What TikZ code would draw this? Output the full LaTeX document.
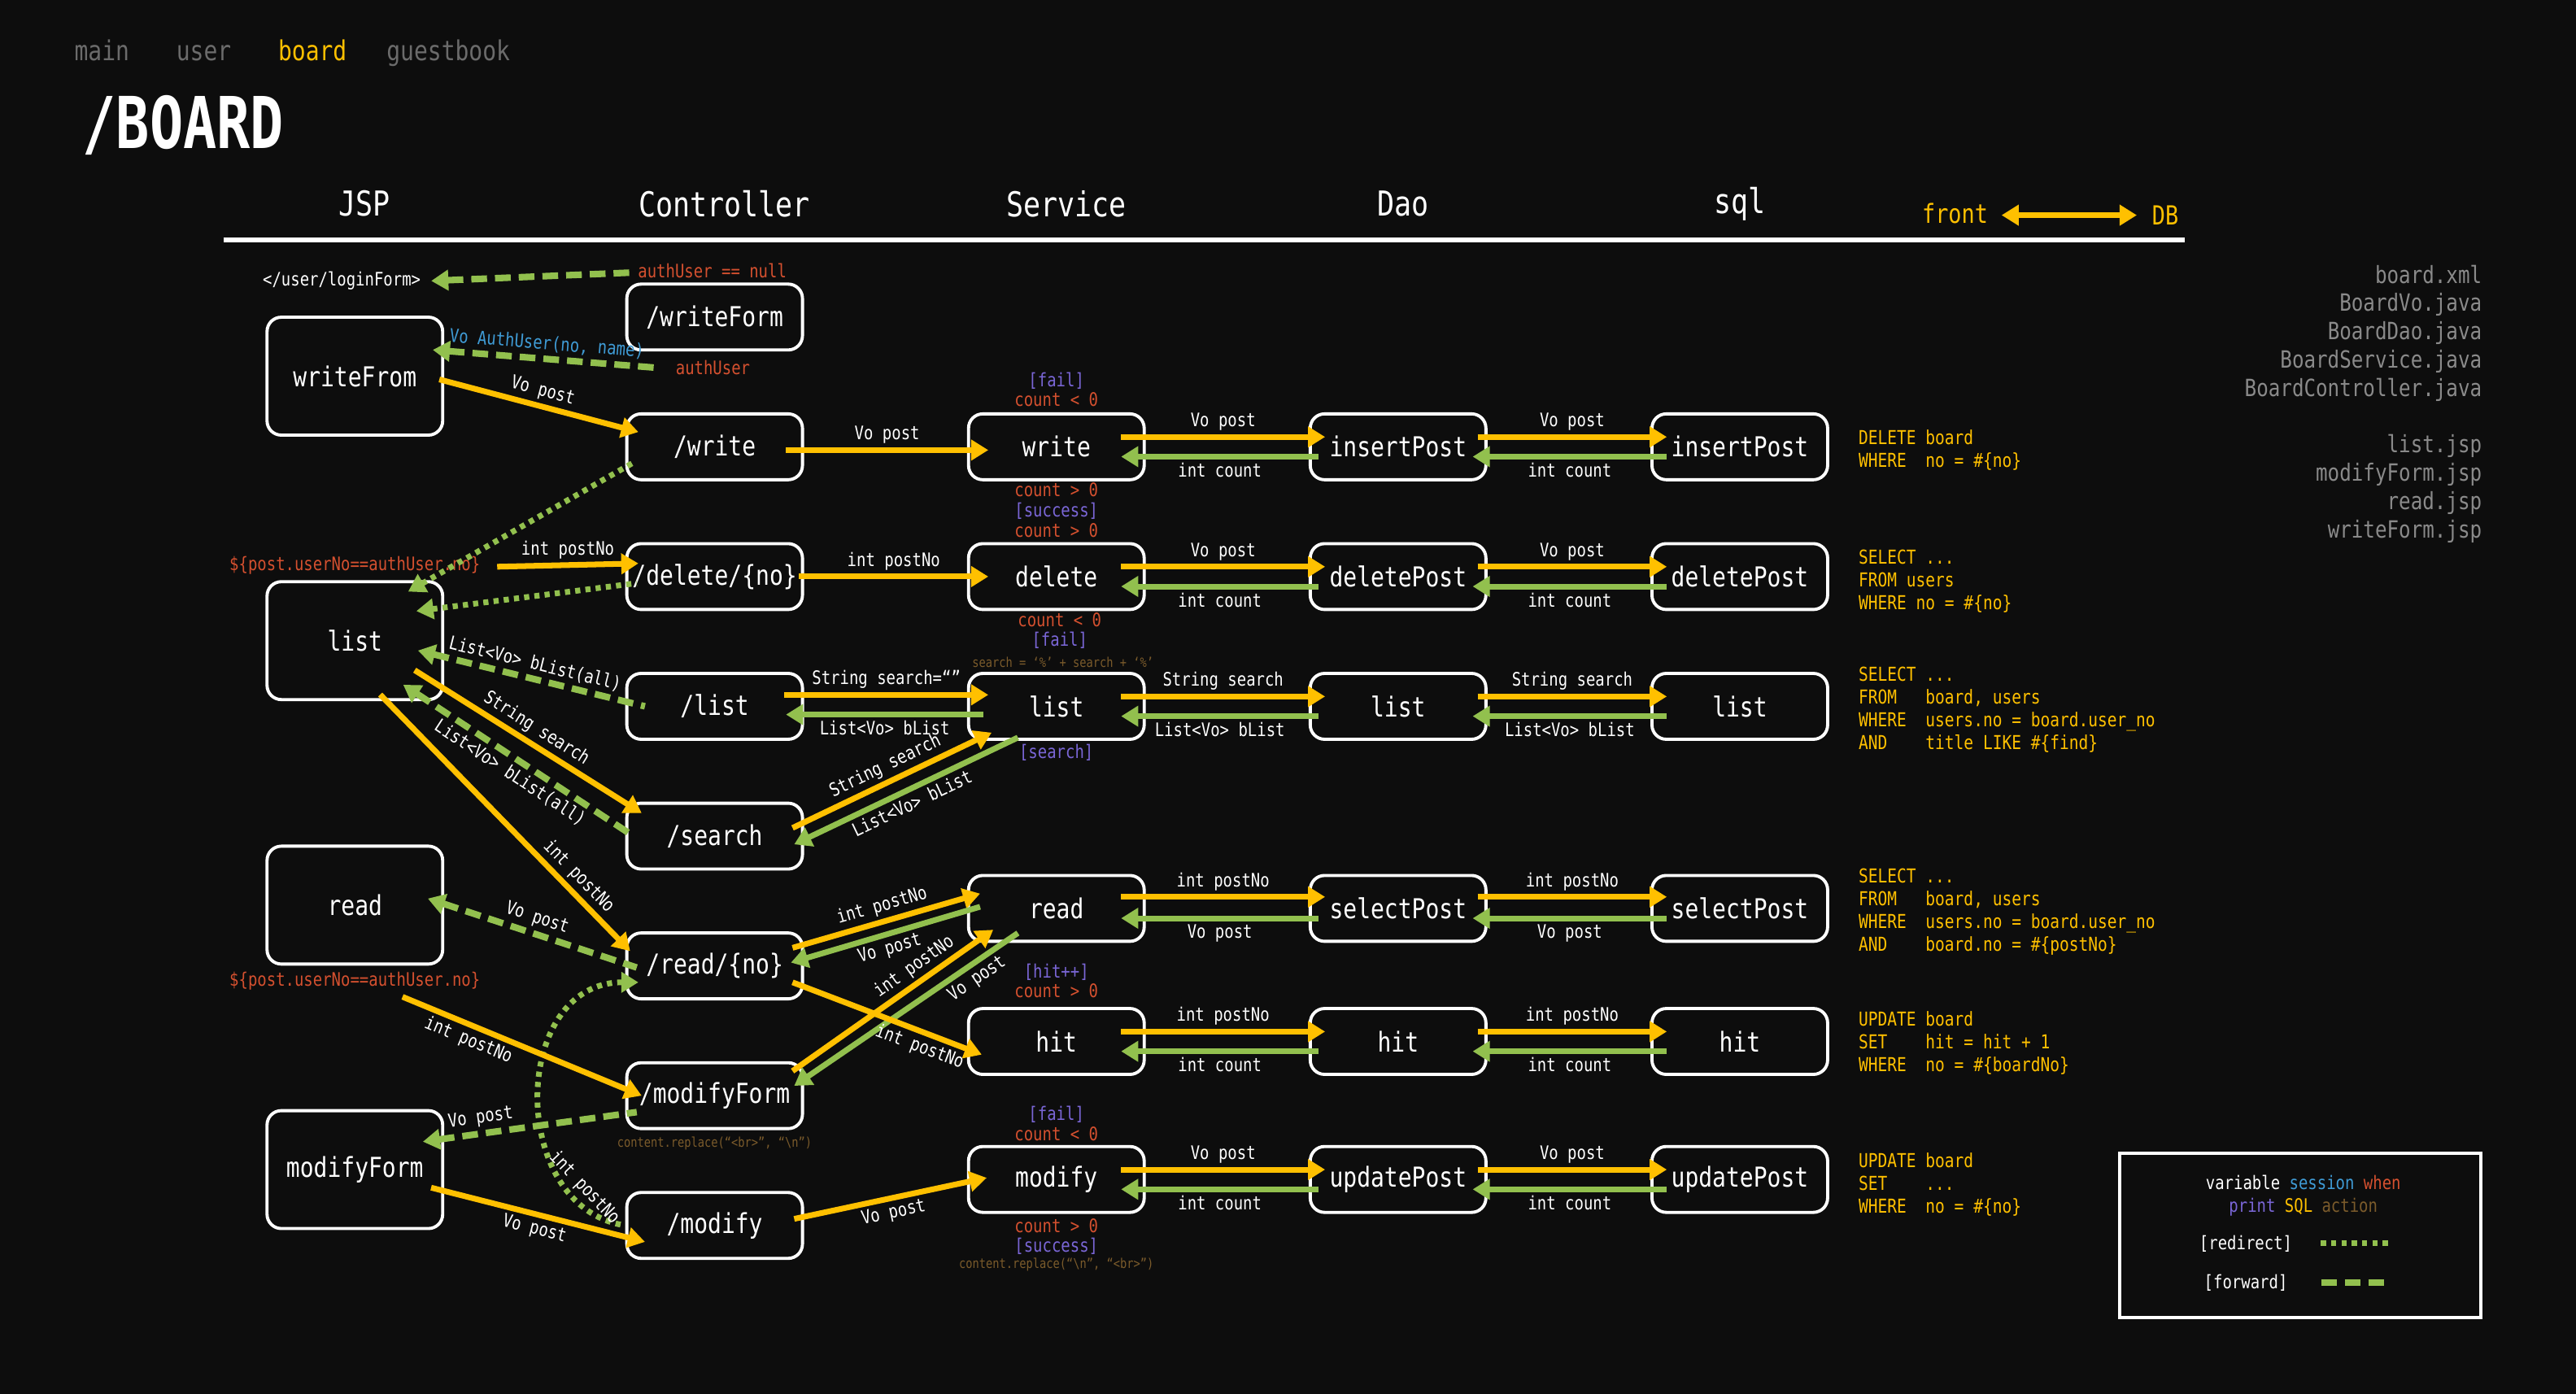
\documentclass[tikz,border=0pt]{standalone}
\usepackage{fontspec}
\setmainfont[FakeStretch=0.83]{DejaVu Sans Mono}
\newfontfamily\titlefont[FakeStretch=0.78]{DejaVu Sans Mono}
\usetikzlibrary{arrows.meta,calc}
\definecolor{pageBg}{HTML}{0D0D0D}
\definecolor{flowYellow}{HTML}{FFC000}
\definecolor{flowGreen}{HTML}{92C04E}
\definecolor{condRed}{HTML}{D4502F}
\definecolor{flagPurple}{HTML}{7A66D6}
\definecolor{userBlue}{HTML}{3F9BD5}
\definecolor{codeBrown}{HTML}{7B5B2B}
\definecolor{fileGray}{HTML}{8A8A8A}
\definecolor{navGray}{HTML}{6B6B6B}

\begin{document}
\begin{tikzpicture}[x=0.0202cm, y=-0.0202cm, >={Triangle[length=6pt,width=7pt]},
  box/.style={draw=white, line width=1.1pt, rounded corners=5pt, minimum width=2.16cm, minimum height=0.81cm, inner sep=0pt, text=white, font=\fontsize{9.6}{11}\selectfont},
  jspbox/.style={box, minimum height=1.45cm},
  call/.style={draw=flowYellow, line width=2pt, ->},
  give/.style={draw=flowGreen, line width=2pt, ->},
  fwd/.style={draw=flowGreen, line width=2.3pt, dash pattern=on 5.5pt off 2.8pt, ->},
  redir/.style={draw=flowGreen, line width=2pt, dash pattern=on 1.8pt off 1.8pt, ->},
  lbl/.style={text=white, font=\fontsize{6.5}{7.5}\selectfont, inner sep=1.2pt},
  tag/.style={font=\fontsize{6.5}{6.9}\selectfont, align=center, inner sep=0pt},
  code/.style={text=codeBrown, font=\fontsize{4.7}{5.5}\selectfont, inner sep=0pt},
  sqltext/.style={anchor=west, align=left, text=flowYellow, font=\fontsize{6.7}{8}\selectfont, inner sep=0pt},
  head/.style={text=white, font=\fontsize{12}{14}\selectfont},
  nav/.style={anchor=base west, inner sep=0pt, text=navGray, font=\fontsize{9.6}{11}\selectfont}]

\fill[pageBg] (0,0) rectangle (1568,848.6);
\useasboundingbox (0,0) rectangle (1568,848.6);

\node[nav] (nMain) at (45,37) {main};
\node[nav] (nUser) at (107,37) {user};
\node[nav, text=flowYellow] (nBoard) at (169,37) {board};
\node[nav] (nGuest) at (235,37) {guestbook};
\node[anchor=west, inner sep=0pt, text=white, font=\titlefont\bfseries\fontsize{25}{30}\selectfont] (title) at (50,76) {/BOARD};

\node[head] (hJsp) at (222,124) {JSP};
\node[head] (hCtrl) at (441,124) {Controller};
\node[head] (hSvc) at (649,124) {Service};
\node[head] (hDao) at (854,124) {Dao};
\node[head] (hSql) at (1059,124) {sql};
\node[text=flowYellow, font=\fontsize{9.2}{11}\selectfont, inner sep=0pt] (hFront) at (1190,130) {front};
\node[text=flowYellow, font=\fontsize{9.2}{11}\selectfont, inner sep=0pt] (hDb) at (1318,131) {DB};
\draw[call, <->] ($(hFront.east)+(8,1)$) -- ($(hDb.west)+(-9,0)$);
\draw[white, line width=1.7pt] (136,146) -- (1330,146);

\node[anchor=north east, align=right, inner sep=0pt, text=fileGray, font=\fontsize{8.3}{9.9}\selectfont] (files) at (1511,161)
  {board.xml\\BoardVo.java\\BoardDao.java\\BoardService.java\\BoardController.java\\[9.9pt]list.jsp\\modifyForm.jsp\\read.jsp\\writeForm.jsp};

\node[jspbox] (jWrite) at (216,229) {writeFrom};
\node[jspbox] (jList) at (216,390) {list};
\node[jspbox] (jRead) at (216,551) {read};
\node[jspbox] (jModify) at (216,712) {modifyForm};

\node[box] (cWriteForm) at (435,193) {/writeForm};
\node[box] (cWrite) at (435,272) {/write};
\node[box] (cDelete) at (435,351) {/delete/\{no\}};
\node[box] (cList) at (435,430) {/list};
\node[box] (cSearch) at (435,509) {/search};
\node[box] (cRead) at (435,588) {/read/\{no\}};
\node[box] (cModifyForm) at (435,667) {/modifyForm};
\node[box] (cModify) at (435,746) {/modify};

\node[box] (sWrite) at (643,272) {write};
\node[box] (sDelete) at (643,351) {delete};
\node[box] (sList) at (643,430) {list};
\node[box] (sRead) at (643,553) {read};
\node[box] (sHit) at (643,634) {hit};
\node[box] (sModify) at (643,718) {modify};

\node[box] (dInsert) at (851,272) {insertPost};
\node[box] (dDelete) at (851,351) {deletePost};
\node[box] (dList) at (851,430) {list};
\node[box] (dSelect) at (851,553) {selectPost};
\node[box] (dHit) at (851,634) {hit};
\node[box] (dUpdate) at (851,718) {updatePost};

\node[box] (qInsert) at (1059,272) {insertPost};
\node[box] (qDelete) at (1059,351) {deletePost};
\node[box] (qList) at (1059,430) {list};
\node[box] (qSelect) at (1059,553) {selectPost};
\node[box] (qHit) at (1059,634) {hit};
\node[box] (qUpdate) at (1059,718) {updatePost};

\node[sqltext] (tInsert) at (1131,274) {DELETE board\\WHERE~~no = \#\{no\}};
\node[sqltext] (tDelete) at (1131,354) {SELECT ...\\FROM users\\WHERE no = \#\{no\}};
\node[sqltext] (tList) at (1131,432) {SELECT ...\\FROM~~~board, users\\WHERE~~users.no = board.user\_no\\AND~~~~title LIKE \#\{find\}};
\node[sqltext] (tSelect) at (1131,555) {SELECT ...\\FROM~~~board, users\\WHERE~~users.no = board.user\_no\\AND~~~~board.no = \#\{postNo\}};
\node[sqltext] (tHit) at (1131,635) {UPDATE board\\SET~~~~hit = hit + 1\\WHERE~~no = \#\{boardNo\}};
\node[sqltext] (tUpdate) at (1131,721) {UPDATE board\\SET~~~~...\\WHERE~~no = \#\{no\}};

\node[tag] (fWriteA) at (643,237) {\textcolor{flagPurple}{[fail]}\\\textcolor{condRed}{count < 0}};
\node[tag] (fWriteB) at (643,305) {\textcolor{condRed}{count > 0}\\\textcolor{flagPurple}{[success]}};
\node[tag, text=condRed] (fDeleteA) at (643,323) {count > 0};
\node[tag] (fDeleteB) at (645,384) {\textcolor{condRed}{count < 0}\\\textcolor{flagPurple}{[fail]}};
\node[code] (fSearch) at (647,403) {search = ‘\%’ + search + ‘\%’};
\node[tag, text=flagPurple] (fList) at (643,458) {[search]};
\node[tag] (fHit) at (643,597) {\textcolor{flagPurple}{[hit++]}\\\textcolor{condRed}{count > 0}};
\node[tag] (fModifyA) at (643,684) {\textcolor{flagPurple}{[fail]}\\\textcolor{condRed}{count < 0}};
\node[tag] (fModifyB) at (643,753) {\textcolor{condRed}{count > 0}\\\textcolor{flagPurple}{[success]}};
\node[code] (fModifyC) at (643,770) {content.replace(“\textbackslash n”, “<br>”)};
\node[code] (fModForm) at (435,696) {content.replace(“<br>”, “\textbackslash n”)};

\node[lbl] (login) at (208,171) {</user/loginForm>};
\node[tag, anchor=west, text=condRed] (aNull) at (388,165) {authUser == null};
\node[tag, anchor=west, text=condRed] (aUser) at (411,224) {authUser};
\node[tag, text=condRed] (pNoA) at (216,344) {\$\{post.userNo==authUser.no\}};
\node[tag, text=condRed] (pNoB) at (216,597) {\$\{post.userNo==authUser.no\}};

\draw[fwd] ($(aNull.west)+(-5,1)$) -- ($(login.east)+(4,0)$);
\draw[fwd, <-] ($(jWrite.east)+(-7,-16)$) -- ($(aUser.west)+(-10,0)$) node[midway, above, sloped, lbl, text=userBlue] {Vo AuthUser(no, name)};
\draw[call] ($(jWrite.east)+(-3,2)$) -- ($(cWrite.west)+(8,-9)$) node[midway, above, sloped, lbl] {Vo post};
\draw[redir, <-] ($(jList.north east)+(-22,7)$) -- ($(cWrite.west)+(6,9)$);
\draw[call] ($(pNoA.east)+(10,1)$) -- ($(cDelete.west)+(8,-8)$) node[midway, above, lbl] {int postNo};
\draw[redir, <-] ($(jList.east)+(-17,-18)$) -- ($(cDelete.west)+(7,4)$);
\draw[fwd, <-] ($(jList.east)+(-16,6)$) -- ($(cList.west)+(12,0)$) node[midway, above, sloped, lbl] {List<Vo> bList(all)};
\draw[call] ($(jList.east)+(-18,18)$) -- ($(cSearch.west)+(10,-14)$) node[midway, above, sloped, lbl] {String search};
\draw[fwd, <-] ($(jList.south east)+(-25,-10)$) -- ($(cSearch.west)+(5,0)$) node[midway, below, sloped, lbl] {List<Vo> bList(all)};
\draw[call] ($(jList.south east)+(-39,-4)$) -- ($(cRead.west)+(3,-9)$) node[pos=0.75, above, sloped, lbl] {int postNo};
\draw[fwd, <-] ($(jRead.east)+(-10,-4)$) -- ($(cRead.west)+(7,1)$) node[midway, above, sloped, lbl] {Vo post};
\draw[redir, <-] ($(cRead.west)+(8,10)$) .. controls ($(cRead.west)+(-70,10)$) and ($(cModify.west)+(-72,-11)$) .. (cModify.west) node[pos=0.82, above, sloped, lbl] {int postNo};
\draw[call] ($(pNoB.south)+(29,4)$) -- ($(cModifyForm.west)+(10,0)$) node[pos=0.3, below, sloped, lbl] {int postNo};
\draw[fwd, <-] ($(jModify.east)+(-13,-17)$) -- ($(cModifyForm.west)+(7,10)$) node[pos=0.28, above, sloped, lbl] {Vo post};
\draw[call] ($(jModify.east)+(-8,11)$) -- ($(cModify.west)+(12,10)$) node[midway, below, sloped, lbl] {Vo post};

\draw[call] ($(cWrite.east)+(-11,2)$) -- ($(sWrite.west)+(13,2)$) node[midway, above, lbl] {Vo post};
\draw[call] ($(cDelete.east)+(-3,0)$) -- ($(sDelete.west)+(13,0)$) node[midway, above, lbl] {int postNo};
\draw[call] ($(cList.east)+(-12,-7)$) -- ($(sList.west)+(13,-7)$) node[midway, above, lbl] {String search=“”};
\draw[give, <-] ($(cList.east)+(-11,5)$) -- ($(sList.west)+(10,5)$) node[midway, below, lbl] {List<Vo> bList};
\draw[call] ($(cSearch.east)+(-7,-5)$) -- ($(sList.west)+(15,16)$) node[midway, above, sloped, lbl] {String search};
\draw[give, <-] ($(cSearch.east)+(-6,5)$) -- ($(sList.west)+(31,19)$) node[midway, below, sloped, lbl] {List<Vo> bList};
\draw[call] ($(cRead.east)+(-7,-11)$) -- ($(sRead.west)+(8,-9)$) node[midway, above, sloped, lbl] {int postNo};
\draw[give, <-] ($(cRead.east)+(-8,-2)$) -- ($(sRead.west)+(8,-1)$) node[midway, below, sloped, lbl] {Vo post};
\draw[call] ($(cModifyForm.east)+(-7,-15)$) -- ($(sRead.west)+(16,13)$) node[pos=0.65, above, sloped, lbl] {int postNo};
\draw[give, <-] ($(cModifyForm.east)+(-6,-6)$) -- ($(sRead.west)+(31,15)$) node[pos=0.78, below, sloped, lbl] {Vo post};
\draw[call] ($(cRead.east)+(-7,10)$) -- ($(sHit.west)+(9,8)$) node[pos=0.7, below, sloped, lbl] {int postNo};
\draw[call] ($(cModify.east)+(-6,-4)$) -- ($(sModify.west)+(12,-1)$) node[midway, below, sloped, lbl] {Vo post};

\draw[call] ($(sWrite.east)+(-15,-6)$) -- ($(dInsert.west)+(10,-6)$) node[midway, above, lbl] {Vo post};
\draw[give, <-] ($(sWrite.east)+(-15,6)$) -- ($(dInsert.west)+(6,6)$) node[midway, below, lbl] {int count};
\draw[call] ($(dInsert.east)+(-6,-6)$) -- ($(qInsert.west)+(10,-6)$) node[midway, above, lbl] {Vo post};
\draw[give, <-] ($(dInsert.east)+(-9,6)$) -- ($(qInsert.west)+(10,6)$) node[midway, below, lbl] {int count};

\draw[call] ($(sDelete.east)+(-15,-6)$) -- ($(dDelete.west)+(10,-6)$) node[midway, above, lbl] {Vo post};
\draw[give, <-] ($(sDelete.east)+(-15,6)$) -- ($(dDelete.west)+(6,6)$) node[midway, below, lbl] {int count};
\draw[call] ($(dDelete.east)+(-6,-6)$) -- ($(qDelete.west)+(10,-6)$) node[midway, above, lbl] {Vo post};
\draw[give, <-] ($(dDelete.east)+(-9,6)$) -- ($(qDelete.west)+(10,6)$) node[midway, below, lbl] {int count};

\draw[call] ($(sList.east)+(-15,-6)$) -- ($(dList.west)+(10,-6)$) node[midway, above, lbl] {String search};
\draw[give, <-] ($(sList.east)+(-15,6)$) -- ($(dList.west)+(6,6)$) node[midway, below, lbl] {List<Vo> bList};
\draw[call] ($(dList.east)+(-6,-6)$) -- ($(qList.west)+(10,-6)$) node[midway, above, lbl] {String search};
\draw[give, <-] ($(dList.east)+(-9,6)$) -- ($(qList.west)+(10,6)$) node[midway, below, lbl] {List<Vo> bList};

\draw[call] ($(sRead.east)+(-15,-7)$) -- ($(dSelect.west)+(10,-7)$) node[midway, above, lbl] {int postNo};
\draw[give, <-] ($(sRead.east)+(-15,6)$) -- ($(dSelect.west)+(6,6)$) node[midway, below, lbl] {Vo post};
\draw[call] ($(dSelect.east)+(-6,-7)$) -- ($(qSelect.west)+(10,-7)$) node[midway, above, lbl] {int postNo};
\draw[give, <-] ($(dSelect.east)+(-9,6)$) -- ($(qSelect.west)+(10,6)$) node[midway, below, lbl] {Vo post};

\draw[call] ($(sHit.east)+(-15,-6)$) -- ($(dHit.west)+(10,-6)$) node[midway, above, lbl] {int postNo};
\draw[give, <-] ($(sHit.east)+(-15,6)$) -- ($(dHit.west)+(6,6)$) node[midway, below, lbl] {int count};
\draw[call] ($(dHit.east)+(-6,-6)$) -- ($(qHit.west)+(10,-6)$) node[midway, above, lbl] {int postNo};
\draw[give, <-] ($(dHit.east)+(-9,6)$) -- ($(qHit.west)+(10,6)$) node[midway, below, lbl] {int count};

\draw[call] ($(sModify.east)+(-15,-6)$) -- ($(dUpdate.west)+(10,-6)$) node[midway, above, lbl] {Vo post};
\draw[give, <-] ($(sModify.east)+(-15,6)$) -- ($(dUpdate.west)+(6,6)$) node[midway, below, lbl] {int count};
\draw[call] ($(dUpdate.east)+(-6,-6)$) -- ($(qUpdate.west)+(10,-6)$) node[midway, above, lbl] {Vo post};
\draw[give, <-] ($(dUpdate.east)+(-9,6)$) -- ($(qUpdate.west)+(10,6)$) node[midway, below, lbl] {int count};

\node[draw=white, line width=1.1pt, minimum width=4.44cm, minimum height=2.02cm, inner sep=0pt] (legend) at (1400,752) {};
\node[lbl] (lVar) at (1402,720) {variable \textcolor{userBlue}{session} \textcolor{condRed}{when}};
\node[lbl] (lPrint) at (1402,735) {\textcolor{flagPurple}{print} \textcolor{flowYellow}{SQL} \textcolor{codeBrown}{action}};
\node[lbl] (lRedir) at (1367,757) {[redirect]};
\node[lbl] (lFwd) at (1367,781) {[forward]};
\draw[redir, -] ($(lRedir.east)+(15,0)$) -- ++(43,0);
\draw[fwd, -] ($(lFwd.east)+(18,0)$) -- ++(43,0);
\end{tikzpicture}
\end{document}
